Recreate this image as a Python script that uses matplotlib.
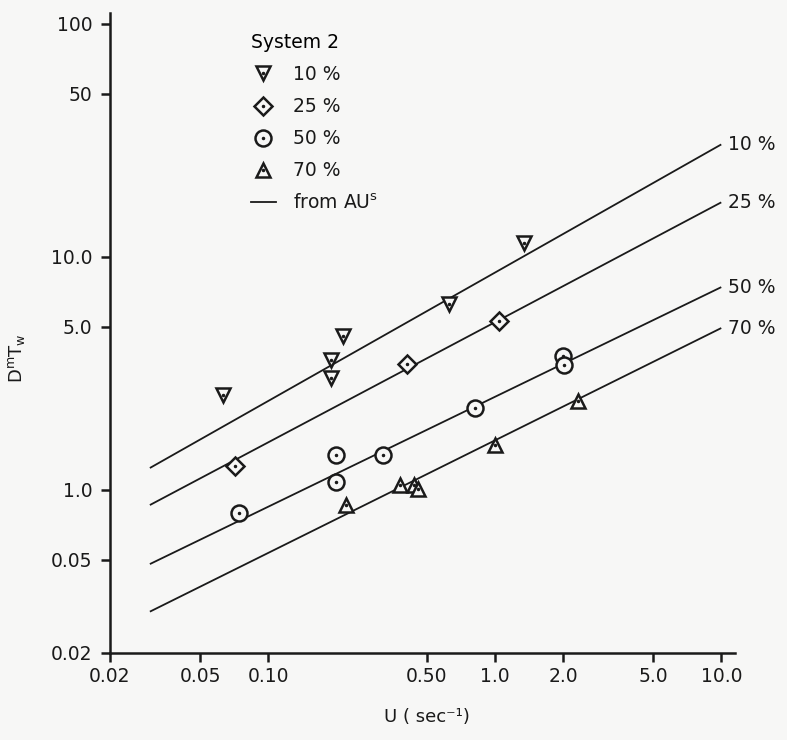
import numpy as np
import matplotlib
matplotlib.use("Agg")
import matplotlib.pyplot as plt
from matplotlib.lines import Line2D

plt.rcParams['font.family'] = ['DejaVu Sans']

# ── Donnees ──────────────────────────────────────────────────

# droites "from AU" (extremites)
u_line  = [0.03, 10.0]
line_10 = [1.24, 30.3]
line_25 = [0.86, 17.1]
line_50 = [0.48, 7.40]
line_70 = [0.30, 4.94]

# points System 2
u_10 = [0.063, 0.19, 0.19, 0.213, 0.63, 1.34]
d_10 = [2.56, 3.59, 3.03, 4.55, 6.28, 11.5]

u_25 = [0.071, 0.41, 1.04]
d_25 = [1.27, 3.47, 5.30]

u_50 = [0.074, 0.20, 0.20, 0.32, 0.82, 2.00, 2.03]
d_50 = [0.795, 1.41, 1.08, 1.41, 2.25, 3.74, 3.42]

u_70 = [0.22, 0.38, 0.44, 0.46, 1.00, 2.32]
d_70 = [0.858, 1.044, 1.044, 1.01, 1.56, 2.41]

series_labels = ["10 %", "25 %", "50 %", "70 %"]
markers       = ["v", "D", "o", "^"]
marker_sizes  = [10.5, 9, 11.5, 10.5]

x_ticks       = [0.02, 0.05, 0.10, 0.50, 1.0, 2.0, 5.0, 10.0]
x_ticklabels  = ["0.02", "0.05", "0.10", "0.50", "1.0", "2.0", "5.0", "10.0"]
# les etiquettes du bas sont celles imprimees sur l'original
y_ticks       = [0.2, 0.5, 1.0, 5.0, 10.0, 50.0, 100.0]
y_ticklabels  = ["0.02", "0.05", "1.0", "5.0", "10.0", "50", "100"]

INK = "#1a1a1a"
BG  = "#f7f7f6"
FS  = 13.5

# ── Figure ───────────────────────────────────────────────────

fig = plt.figure(figsize=(7.87, 7.40), dpi=100, facecolor=BG)
ax  = fig.add_axes([110 / 787, (740 - 652.7) / 740, 625 / 787, 639.7 / 740])
ax.set_facecolor(BG)
ax.set_xscale("log")
ax.set_yscale("log")
ax.set_xlim(0.02, 11.5)
ax.set_ylim(0.205, 111)

lines = [line_10, line_25, line_50, line_70]
for ys, lab in zip(lines, series_labels):
    ax.plot(u_line, ys, color=INK, lw=1.3, solid_capstyle="butt")
    ax.annotate(lab, xy=(u_line[-1], ys[-1]), xytext=(5, 0),
                textcoords="offset points", va="center", ha="left",
                fontsize=FS, color=INK)

handles = []
for us, ds, m, ms in zip([u_10, u_25, u_50, u_70],
                         [d_10, d_25, d_50, d_70], markers, marker_sizes):
    h1, = ax.plot(us, ds, ls="none", marker=m, ms=ms, mfc=BG,
                  mec=INK, mew=1.8, zorder=3)
    h2, = ax.plot(us, ds, ls="none", marker=".", ms=3, color=INK, zorder=4)
    handles.append((h1, h2))

handles.append(Line2D([], [], color=INK, lw=1.3))
labels = series_labels + [r"from AU$^{\mathrm{s}}$"]

leg = ax.legend(handles, labels, title="System 2", loc="upper left",
                bbox_to_anchor=(0.225, 0.969), frameon=False,
                fontsize=FS, title_fontsize=FS, borderpad=0,
                borderaxespad=0, labelspacing=0.7, handlelength=1.35,
                handletextpad=0.9, alignment="left")
for t in leg.get_texts():
    t.set_color(INK)

# ── Axes ─────────────────────────────────────────────────────

for s in ["top", "right"]:
    ax.spines[s].set_visible(False)
for s in ["left", "bottom"]:
    ax.spines[s].set_linewidth(1.8)
    ax.spines[s].set_color(INK)

ax.set_xticks(x_ticks)
ax.set_xticklabels(x_ticklabels)
ax.set_yticks(y_ticks)
ax.set_yticklabels(y_ticklabels)
ax.minorticks_off()
ax.tick_params(axis="both", length=6.5, width=1.8, color=INK,
               labelsize=FS, labelcolor=INK)
ax.tick_params(axis="y", pad=6)
ax.tick_params(axis="x", pad=4)

ax.set_xlabel("U ( sec⁻¹)", fontsize=13, color=INK)
ax.xaxis.set_label_coords(0.507, -0.086)
ax.set_ylabel(r"D$^{\mathrm{m}}$T$_{\mathrm{w}}$", fontsize=13, color=INK)
ax.yaxis.set_label_coords(-0.133, 0.461)

plt.savefig("out.png", dpi=100, facecolor=BG)
